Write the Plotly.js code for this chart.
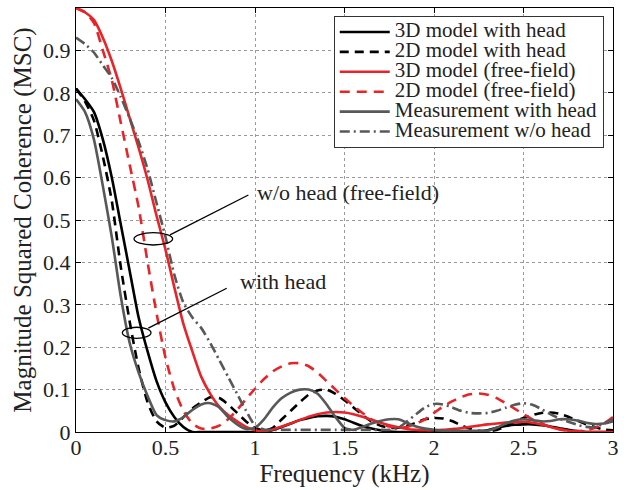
<!DOCTYPE html>
<html>
<head>
<meta charset="utf-8">
<script src="https://cdn.plot.ly/plotly-3.0.1.min.js"></script>
<style>html,body{margin:0;padding:0;background:#fff;}#chart{width:634px;height:490px;}</style>
</head>
<body>
<div id="chart"></div>
<script>
// Frequency axis (kHz)
var freq = [0,0.05,0.1,0.15,0.2,0.25,0.3,0.35,0.4,0.45,0.5,0.55,0.6,0.65,0.7,0.75,0.8,0.85,0.9,0.95,
            1.0,1.05,1.1,1.15,1.2,1.25,1.3,1.35,1.4,1.45,1.5,1.55,1.6,1.65,1.7,1.75,1.8,1.85,1.9,1.95,
            2.0,2.05,2.1,2.15,2.2,2.25,2.3,2.35,2.4,2.45,2.5,2.55,2.6,2.65,2.7,2.75,2.8,2.85,2.9,2.95,3.0];

var model3dHead = [0.81,0.785,0.755,0.69,0.60,0.49,0.38,0.27,0.19,0.12,0.07,0.035,0.012,0.0,0,0,0,0,0,0,
                   0,0,0.005,0.012,0.02,0.028,0.033,0.037,0.038,0.036,0.03,0.022,0.014,0.008,0.004,0.001,0,0,0,0,
                   0,0,0,0,0,0,0.004,0.01,0.014,0.017,0.018,0.018,0.016,0.013,0.009,0.005,0.002,0,0,0,0];

var model2dHead = [0.81,0.78,0.735,0.65,0.545,0.39,0.26,0.15,0.07,0.025,0.01,0.015,0.035,0.055,0.07,0.082,0.08,0.065,0.045,0.025,
                   0.01,0.003,0.01,0.03,0.05,0.07,0.088,0.098,0.1,0.09,0.075,0.058,0.04,0.025,0.015,0.01,0.01,0.015,0.022,0.03,
                   0.033,0.032,0.026,0.016,0.008,0.003,0.002,0.005,0.013,0.024,0.033,0.04,0.045,0.046,0.043,0.036,0.027,0.018,0.011,0.006,0.004];

var model3dFree = [1.0,0.99,0.972,0.93,0.875,0.81,0.74,0.67,0.595,0.51,0.43,0.34,0.255,0.19,0.13,0.09,0.06,0.04,0.025,0.012,
                   0.004,0.002,0.006,0.013,0.02,0.028,0.036,0.042,0.046,0.047,0.046,0.042,0.036,0.029,0.022,0.016,0.011,0.007,0.005,0.004,
                   0.004,0.005,0.007,0.009,0.012,0.015,0.018,0.02,0.022,0.023,0.024,0.022,0.018,0.012,0.007,0.003,0.001,0,0,0,0];

var model2dFree = [1.0,0.99,0.965,0.9,0.83,0.73,0.63,0.53,0.40,0.28,0.175,0.1,0.05,0.02,0.008,0.008,0.015,0.03,0.052,0.078,
                   0.102,0.125,0.143,0.155,0.162,0.162,0.155,0.14,0.12,0.1,0.08,0.062,0.045,0.03,0.02,0.013,0.01,0.012,0.02,0.03,
                   0.045,0.06,0.072,0.082,0.089,0.091,0.088,0.08,0.068,0.055,0.042,0.03,0.02,0.012,0.006,0.003,0.002,0.004,0.01,0.02,0.035];

var measHead = [0.785,0.755,0.69,0.58,0.46,0.32,0.21,0.14,0.085,0.04,0.028,0.025,0.035,0.052,0.065,0.068,0.058,0.035,0.018,0.007,
                0.01,0.03,0.058,0.08,0.093,0.1,0.1,0.09,0.065,0.035,0.01,0.005,0.012,0.02,0.026,0.03,0.03,0.022,0.013,0.008,
                0.005,0.003,0.003,0.003,0.003,0.003,0.003,0.01,0.02,0.027,0.03,0.028,0.025,0.026,0.03,0.03,0.027,0.022,0.019,0.02,0.025];

var measFree = [0.93,0.915,0.895,0.865,0.835,0.79,0.74,0.685,0.62,0.54,0.46,0.37,0.305,0.27,0.245,0.21,0.17,0.13,0.09,0.05,
                0.015,0.006,0.005,0.005,0.005,0.005,0.005,0.005,0.005,0.005,0.005,0.005,0.005,0.005,0.005,0.005,0.01,0.025,0.042,0.058,
                0.066,0.065,0.058,0.05,0.045,0.044,0.045,0.05,0.057,0.064,0.068,0.064,0.054,0.042,0.032,0.024,0.017,0.012,0.012,0.02,0.03];

var seriesNames = ['3D model with head','2D model with head','3D model (free-field)','2D model (free-field)','Measurement with head','Measurement w/o head'];
var xTicks = [0,0.5,1,1.5,2,2.5,3];
var xTickText = ['0','0.5','1','1.5','2','2.5','3'];
var yTicks = [0,0.1,0.2,0.3,0.4,0.5,0.6,0.7,0.8,0.9,1];
var yTickText = ['0','0.1','0.2','0.3','0.4','0.5','0.6','0.7','0.8','0.9','1'];

var RED = 'rgb(232,36,40)';
var GRAY = 'rgb(88,88,88)';
var SERIF = 'Liberation Serif';

function mk(y, name, color, dash, w) {
  return {
    x: freq, y: y, name: '<span style="font-size:21px">' + name + '</span>',
    type: 'scatter', mode: 'lines',
    line: {color: color, width: w, dash: dash, shape: 'spline', smoothing: 0.6}
  };
}

var data = [
  mk(model3dHead, seriesNames[0], '#000000', 'solid', 2.6),
  mk(model2dHead, seriesNames[1], '#000000', '9px,6px', 2.6),
  mk(model3dFree, seriesNames[2], RED, 'solid', 2.6),
  mk(model2dFree, seriesNames[3], RED, '10px,7px', 2.6),
  mk(measHead, seriesNames[4], GRAY, 'solid', 2.6),
  mk(measFree, seriesNames[5], GRAY, '10px,4px,2px,4px', 2.6)
];

function axisBase() {
  return {
    showline: true, linecolor: '#000', linewidth: 1, mirror: 'ticks',
    ticks: 'inside', ticklen: 5, tickwidth: 1, tickcolor: '#000',
    showgrid: true, gridcolor: '#9a9a9a', gridwidth: 1, griddash: 'dot',
    zeroline: false,
    tickfont: {family: SERIF, size: 22, color: '#222'}
  };
}

var xa = axisBase();
xa.range = [0, 3]; xa.tickvals = xTicks; xa.ticktext = xTickText;
xa.ticklabelstandoff = -4;
xa.title = {text: 'Frequency (kHz)', font: {family: SERIF, size: 25, color: '#222'}, standoff: 2};
var ya = axisBase();
ya.range = [0, 1]; ya.tickvals = yTicks; ya.ticktext = yTickText;
ya.title = {text: 'Magnitude Squared Coherence (MSC)', font: {family: SERIF, size: 25, color: '#222'}, standoff: 4};

var layout = {
  width: 634, height: 490,
  margin: {l: 76, r: 21, t: 8, b: 58},
  paper_bgcolor: '#fff', plot_bgcolor: '#fff',
  font: {family: SERIF, color: '#222', size: 14},
  showlegend: true,
  legend: {
    x: 0.48, y: 0.981, xanchor: 'left', yanchor: 'top',
    bgcolor: '#fff', bordercolor: '#333', borderwidth: 1,
    font: {family: SERIF, size: 13, color: '#222'},
    itemwidth: 50, tracegroupgap: 0
  },
  xaxis: xa,
  yaxis: ya,
  shapes: [
    {type: 'circle', xref: 'x', yref: 'y', x0: 0.324, x1: 0.540, y0: 0.441, y1: 0.470, line: {color: '#000', width: 1.3}},
    {type: 'line', xref: 'x', yref: 'y', x0: 0.525, y0: 0.465, x1: 0.963, y1: 0.559, line: {color: '#000', width: 1.3}},
    {type: 'circle', xref: 'x', yref: 'y', x0: 0.259, x1: 0.419, y0: 0.221, y1: 0.247, line: {color: '#000', width: 1.3}},
    {type: 'line', xref: 'x', yref: 'y', x0: 0.404, y0: 0.245, x1: 0.842, y1: 0.339, line: {color: '#000', width: 1.3}}
  ],
  annotations: [
    {x: 1.0, y: 0.564, xref: 'x', yref: 'y', xanchor: 'left', yanchor: 'middle', showarrow: false,
     text: 'w/o head (free-field)', font: {family: SERIF, size: 22, color: '#222'}},
    {x: 0.905, y: 0.354, xref: 'x', yref: 'y', xanchor: 'left', yanchor: 'middle', showarrow: false,
     text: 'with head', font: {family: SERIF, size: 22, color: '#222'}}
  ]
};

Plotly.newPlot('chart', data, layout, {staticPlot: true, displayModeBar: false});
</script>
</body>
</html>
